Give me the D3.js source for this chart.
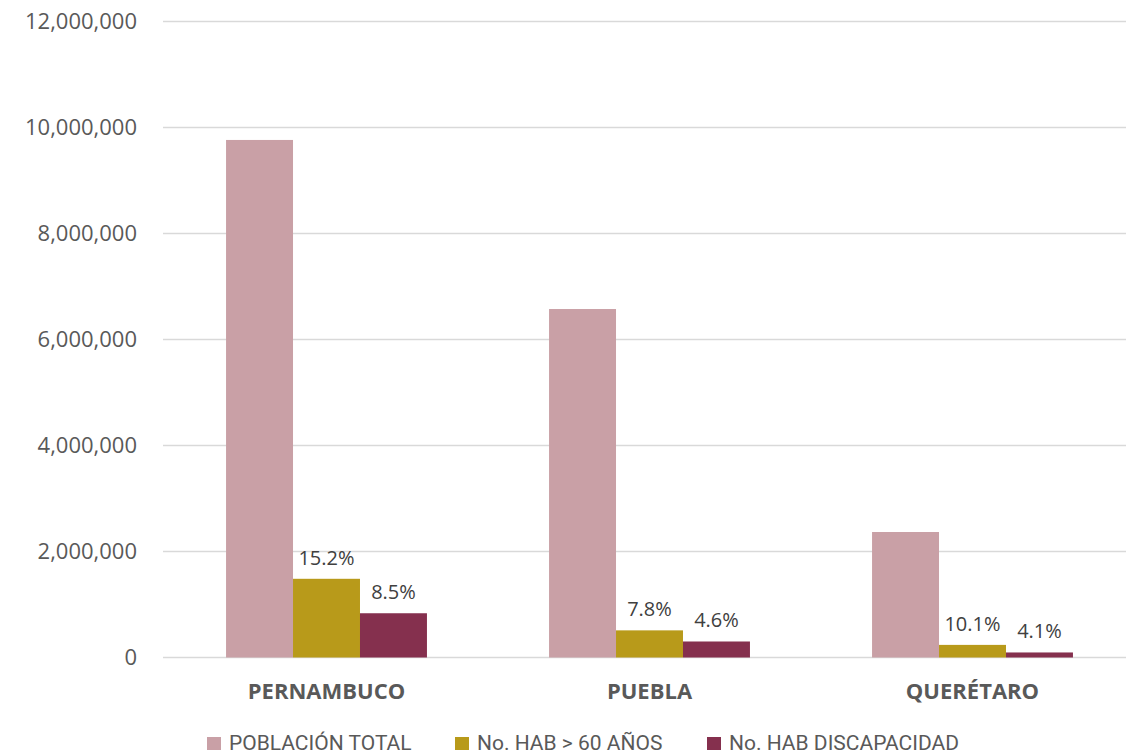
<!DOCTYPE html>
<html>
<head>
<meta charset="utf-8">
<script src="https://cdn.jsdelivr.net/npm/d3@7"></script>
<style>
  body { margin: 0; background: #fff; }
  svg { display: block; font-family: "Open Sans", sans-serif; }
</style>
</head>
<body>
<svg id="chart" width="1126" height="755"></svg>
<script>
const states = ["PERNAMBUCO", "PUEBLA", "QUERÉTARO"];
const seriesNames = ["POBLACIÓN TOTAL", "No. HAB > 60 AÑOS", "No. HAB DISCAPACIDAD"];
const totalPop = [9765000, 6575000, 2368000];
const over60 = [1485000, 512000, 238000];
const disability = [835000, 302000, 95000];
const pctLabels = [[null, "15.2%", "8.5%"], [null, "7.8%", "4.6%"], [null, "10.1%", "4.1%"]];
const yTicks = [0, 2000000, 4000000, 6000000, 8000000, 10000000, 12000000];
const colors = ["#c9a0a6", "#b89a1a", "#85304e"];

const svg = d3.select("#chart");
const values = [totalPop, over60, disability];

const y = d3.scaleLinear().domain([0, 12000000]).range([657.5, 21.5]);
const x0 = d3.scaleBand().domain(states).range([165, 1134]).paddingInner(0.378).paddingOuter(0.189);
const x1 = d3.scaleBand().domain(d3.range(3)).range([0, x0.bandwidth()]);

// grid
svg.append("g").selectAll("line").data(yTicks).join("line")
  .attr("x1", 163).attr("x2", 1126)
  .attr("y1", d => y(d)).attr("y2", d => y(d))
  .attr("stroke", "#d9d9d9").attr("stroke-width", 1.3);

svg.append("g").selectAll("text").data(yTicks).join("text")
  .attr("x", 137).attr("y", d => y(d))
  .attr("dy", "0.35em")
  .attr("text-anchor", "end")
  .attr("fill", "#595959")
  .style("font-size", "22px")
  .text(d => d3.format(",")(d));

// bars
const groups = svg.append("g").selectAll("g").data(states).join("g")
  .attr("transform", d => `translate(${x0(d)},0)`);

groups.each(function(state, si) {
  const g = d3.select(this);
  for (let k = 0; k < 3; k++) {
    const v = values[k][si];
    g.append("rect")
      .attr("x", x1(k))
      .attr("y", y(v))
      .attr("width", x1.bandwidth())
      .attr("height", y(0) - y(v))
      .attr("fill", colors[k]);
    if (pctLabels[si][k]) {
      g.append("text")
        .attr("x", x1(k) + x1.bandwidth() / 2)
        .attr("y", y(v) - 14)
        .attr("text-anchor", "middle")
        .attr("fill", "#404040")
        .style("font-size", "20px")
        .text(pctLabels[si][k]);
    }
  }
});

// category labels
svg.append("g").selectAll("text").data(states).join("text")
  .attr("x", d => x0(d) + x0.bandwidth() / 2)
  .attr("y", 699)
  .attr("text-anchor", "middle")
  .attr("fill", "#595959")
  .style("font-size", "22px")
  .style("font-weight", "bold")
  .text(d => d);

// legend
const legendX = [207, 455, 707];
const legend = svg.append("g").selectAll("g").data(seriesNames).join("g")
  .attr("transform", (d, i) => `translate(${legendX[i]},737)`);
legend.append("rect").attr("width", 14).attr("height", 13)
  .attr("fill", (d, i) => colors[i]);
legend.append("text")
  .attr("x", 22).attr("y", 12.5)
  .attr("fill", "#595959")
  .style("font-family", "Roboto, sans-serif")
  .style("font-size", "21px")
  .text(d => d);
</script>
</body>
</html>
